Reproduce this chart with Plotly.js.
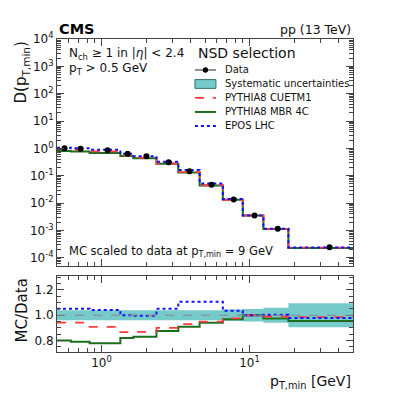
<!DOCTYPE html>
<html><head><meta charset="utf-8">
<script src="https://cdn.plot.ly/plotly-3.0.1.min.js"></script>
<style>html,body{margin:0;padding:0;background:#fff}#plot{width:393px;height:393px}</style>
</head><body><div id="plot"></div>
<script>
// bin edges of pT,min [GeV]
const binEdges = [0.5, 0.62, 0.83, 1.34, 1.64, 2.35, 3.3, 4.6, 6.6, 9, 12.4, 18.3, 50];
// data points
const dataX = [0.562, 0.721, 1.098, 1.50, 2.01, 2.84, 3.93, 5.54, 7.81, 10.8, 15.5, 34.7];
const dataY = [1.0, 0.96, 0.86, 0.64, 0.52, 0.31, 0.145, 0.047, 0.0135, 0.0035, 0.00115, 0.00024];
// MC predictions (main panel)
const eposY   = [1.052, 1.01, 0.894, 0.64, 0.52, 0.3255, 0.1605, 0.052, 0.014, 0.0035, 0.00115, 0.000235];
const cuetY   = [0.94, 0.90, 0.78, 0.555, 0.452, 0.279, 0.135, 0.0447, 0.0132, 0.0035, 0.00114, 0.000236];
const mbrY    = [0.80, 0.76, 0.67, 0.525, 0.432, 0.272, 0.132, 0.0442, 0.0131, 0.0035, 0.00112, 0.000229];
// MC / Data ratios
const eposR = [1.052, 1.052, 1.042, 1.0, 0.995, 1.052, 1.107, 1.107, 1.036, 1.0, 1.003, 0.978];
const cuetR = [0.942, 0.942, 0.908, 0.866, 0.868, 0.90, 0.93, 0.95, 0.976, 1.0, 0.99, 0.985];
const mbrR  = [0.80, 0.79, 0.78, 0.82, 0.83, 0.876, 0.91, 0.94, 0.968, 1.0, 0.975, 0.955];
// systematic uncertainty band (upper / lower edges)
const systUp = [1.04, 1.04, 1.04, 1.04, 1.04, 1.04, 1.04, 1.04, 1.045, 1.05, 1.06, 1.095];
const systLo = [0.96, 0.96, 0.96, 0.96, 0.96, 0.96, 0.96, 0.96, 0.955, 0.95, 0.94, 0.905];
// legend labels
const legendTitle = 'NSD selection';
const legendLabels = ['Data', 'Systematic uncertainties', 'PYTHIA8 CUETM1', 'PYTHIA8 MBR 4C', 'EPOS LHC'];

const stepY = a => a.concat([a[a.length-1]]);

const cRed = '#ff3b3b', cGreen = '#1c6e1c', cBlue = '#1010ff', cTeal = '#76caca';
const FONT = 'DejaVu Sans, Arial, sans-serif';

const traces = [
  {x: binEdges, y: stepY(systLo), xaxis:'x2', yaxis:'y2', mode:'lines', line:{shape:'hv', width:0, color:cTeal}, hoverinfo:'skip'},
  {x: binEdges, y: stepY(systUp), xaxis:'x2', yaxis:'y2', mode:'lines', line:{shape:'hv', width:0, color:cTeal}, fill:'tonexty', fillcolor:cTeal, hoverinfo:'skip'},
  {x: binEdges, y: stepY(mbrY), mode:'lines', line:{shape:'hv', color:cGreen, width:2}, name:legendLabels[3]},
  {x: binEdges, y: stepY(cuetY), mode:'lines', line:{shape:'hv', color:cRed, width:1.8, dash:'dash'}, name:legendLabels[2]},
  {x: binEdges, y: stepY(eposY), mode:'lines', line:{shape:'hv', color:cBlue, width:2, dash:'dot'}, name:legendLabels[4]},
  {x: binEdges, y: stepY(mbrR), xaxis:'x2', yaxis:'y2', mode:'lines', line:{shape:'hv', color:cGreen, width:2}},
  {x: binEdges, y: stepY(cuetR), xaxis:'x2', yaxis:'y2', mode:'lines', line:{shape:'hv', color:cRed, width:1.8, dash:'dash'}},
  {x: binEdges, y: stepY(eposR), xaxis:'x2', yaxis:'y2', mode:'lines', line:{shape:'hv', color:cBlue, width:2, dash:'dot'}},
  {x: dataX, y: dataY, mode:'markers', marker:{color:'black', size:6}, name:legendLabels[0], cliponaxis:false}
];

// manual legend (Plotly's native legend rows are too tall for this layout)
const lgX0 = 0.466, lgX1 = 0.537, lgTx = 0.561, lgY0 = 0.901, lgDy = 0.0447;
const legShapes = [], legAnn = [];
const legStyles = [
  {kind:'data'}, {kind:'box'},
  {kind:'line', color:cRed, dash:'dash', width:1.8},
  {kind:'line', color:cGreen, dash:'solid', width:2},
  {kind:'line', color:cBlue, dash:'dot', width:2}
];
legendLabels.forEach((lab, i) => {
  const yy = lgY0 - i*lgDy, st = legStyles[i];
  if (st.kind === 'data') {
    legShapes.push({type:'line', xref:'paper', yref:'paper', x0:lgX0, x1:lgX1, y0:yy, y1:yy, line:{color:'#222', width:1}});
    legShapes.push({type:'circle', xref:'paper', yref:'paper', x0:(lgX0+lgX1)/2-0.009, x1:(lgX0+lgX1)/2+0.009, y0:yy-0.0085, y1:yy+0.0085, fillcolor:'#000', line:{color:'#000', width:0}});
  } else if (st.kind === 'box') {
    legShapes.push({type:'rect', xref:'paper', yref:'paper', x0:lgX0, x1:lgX1, y0:yy-0.014, y1:yy+0.014, fillcolor:cTeal, line:{color:'#2f7070', width:1}});
  } else {
    legShapes.push({type:'line', xref:'paper', yref:'paper', x0:lgX0, x1:lgX1, y0:yy, y1:yy, line:{color:st.color, width:st.width, dash:st.dash}});
  }
  legAnn.push({text:lab, xref:'paper', yref:'paper', x:lgTx, y:yy, xanchor:'left', yanchor:'middle', showarrow:false, font:{family:FONT, size:10, color:'#111'}});
});
legAnn.push({text:legendTitle, xref:'paper', yref:'paper', x:0.47, y:0.955, xanchor:'left', yanchor:'middle', showarrow:false, font:{family:FONT, size:14, color:'#111'}});

const minorX = [0.5,0.6,0.7,0.8,0.9,2,3,4,5,6,7,8,9,20,30,40,50];
const axCommon = {showline:true, linecolor:'#444', linewidth:1, mirror:'allticks', ticks:'inside', tickcolor:'#444', showgrid:false, zeroline:false, tickfont:{family:FONT, size:12, color:'#111'}};
const layout = {
  width:393, height:393,
  margin:{l:57, r:40, t:39, b:41},
  paper_bgcolor:'#fff', plot_bgcolor:'#fff',
  font:{family:FONT, color:'#111'},
  showlegend:false,
  xaxis:Object.assign({}, axCommon, {type:'log', range:[Math.log10(0.5), Math.log10(50)], domain:[0,1], anchor:'y', showticklabels:false, ticklen:7, tickvals:[1,10], minor:{ticks:'inside', ticklen:4, tickcolor:'#444', tickvals:minorX}}),
  yaxis:Object.assign({}, axCommon, {type:'log', range:[-4.3, 4], domain:[0.275, 1], anchor:'x', ticklen:7,
    tickvals:[1e-4,1e-3,1e-2,1e-1,1,10,100,1e3,1e4],
    ticktext:['10<sup>-4</sup>','10<sup>-3</sup>','10<sup>-2</sup>','10<sup>-1</sup>','10<sup>0</sup>','10<sup>1</sup>','10<sup>2</sup>','10<sup>3</sup>','10<sup>4</sup>'],
    minor:{ticks:'inside', ticklen:4, tickcolor:'#444', dtick:'D1'}}),
  xaxis2:Object.assign({}, axCommon, {type:'log', range:[Math.log10(0.5), Math.log10(50)], domain:[0,1], anchor:'y2', ticklen:7, tickvals:[1,10], ticktext:['10<sup>0</sup>','10<sup>1</sup>'], minor:{ticks:'inside', ticklen:4, tickcolor:'#444', tickvals:minorX}}),
  yaxis2:Object.assign({}, axCommon, {range:[0.71, 1.31], domain:[0, 0.243], anchor:'x2', ticklen:7, tickvals:[0.8,1.0,1.2], ticktext:['0.8','1.0','1.2'], minor:{ticks:'inside', ticklen:4, tickcolor:'#444', dtick:0.05, tick0:0}}),
  shapes:[
    {type:'line', xref:'x2 domain', yref:'y2', x0:0, x1:1, y0:1, y1:1, line:{color:'#888', width:1, dash:'dash'}}
  ].concat(legShapes),
  annotations:[
    {text:'<b>CMS</b>', xref:'paper', yref:'paper', x:0, y:1.0, xanchor:'left', yanchor:'bottom', showarrow:false, font:{family:FONT, size:14.5, color:'#000'}},
    {text:'pp (13 TeV)', xref:'paper', yref:'paper', x:1, y:1.0, xanchor:'right', yanchor:'bottom', showarrow:false, font:{family:FONT, size:12.5, color:'#111'}},
    {text:'N<sub>ch</sub> ≥ 1 in |<i>η</i>| &lt; 2.4', xref:'paper', yref:'paper', x:0.035, y:0.985, xanchor:'left', yanchor:'top', showarrow:false, font:{family:FONT, size:12, color:'#111'}},
    {text:'p<sub>T</sub> &gt; 0.5 GeV', xref:'paper', yref:'paper', x:0.035, y:0.935, xanchor:'left', yanchor:'top', showarrow:false, font:{family:FONT, size:12, color:'#111'}},
    {text:'MC scaled to data at p<sub>T,min</sub> = 9 GeV', xref:'paper', yref:'paper', x:0.035, y:0.29, xanchor:'left', yanchor:'bottom', showarrow:false, font:{family:FONT, size:11.5, color:'#111'}},
    {text:'D(p<sub>T,min</sub>)', xref:'paper', yref:'paper', x:-0.12, y:1.0, xanchor:'center', yanchor:'top', textangle:-90, showarrow:false, font:{family:FONT, size:15, color:'#111'}},
    {text:'MC/Data', xref:'paper', yref:'paper', x:-0.12, y:0.243, xanchor:'center', yanchor:'top', textangle:-90, showarrow:false, font:{family:FONT, size:15, color:'#111'}},
    {text:'p<sub>T,min</sub> [GeV]', xref:'paper', yref:'paper', x:1, y:-0.06, xanchor:'right', yanchor:'top', showarrow:false, font:{family:FONT, size:14, color:'#111'}}
  ].concat(legAnn)
};
Plotly.newPlot('plot', traces, layout, {staticPlot:true, displayModeBar:false});
</script></body></html>
